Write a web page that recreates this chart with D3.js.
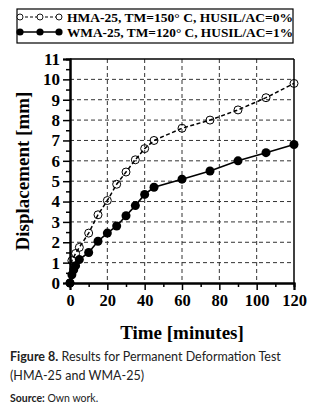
<!DOCTYPE html>
<html><head><meta charset="utf-8">
<script src="https://cdn.jsdelivr.net/npm/d3@7"></script>
<style>
body{margin:0;background:#fff;}
svg{display:block;}
</style></head>
<body>
<svg id="c" width="325" height="416"></svg>
<script>
const hmaTime = [0, 1, 3, 5, 10, 15, 20, 25, 30, 35, 40, 45, 60, 75, 90, 105, 120];
const hmaDisp = [0, 1.1, 1.45, 1.75, 2.45, 3.35, 4.05, 4.85, 5.45, 6.05, 6.6, 7.0, 7.6, 8.0, 8.5, 9.1, 9.8];
const wmaTime = [0, 1, 2, 3, 5, 10, 15, 20, 25, 30, 35, 40, 45, 60, 75, 90, 105, 120];
const wmaDisp = [0, 0.4, 0.65, 0.85, 1.15, 1.5, 2.05, 2.45, 2.8, 3.3, 3.8, 4.35, 4.7, 5.1, 5.5, 6.0, 6.4, 6.8];
const seriesNames = ["HMA-25, TM=150° C, HUSIL/AC=0%", "WMA-25, TM=120° C, HUSIL/AC=1%"];
const xTicks = [0, 20, 40, 60, 80, 100, 120];
const yTicks = [0,1,2,3,4,5,6,7,8,9,10,11];
const xTitle = "Time [minutes]";
const yTitle = "Displacement [mm]";

const svg = d3.select("#c");
const L = 70, R = 294, T = 59, B = 283;
const x = d3.scaleLinear().domain([0,120]).range([L,R]);
const y = d3.scaleLinear().domain([0,11]).range([B,T]);
const serif = "'Liberation Serif','Times New Roman',serif";

// grid
const g = svg.append("g");
g.selectAll(".hg").data(yTicks.filter(d=>d>0&&d<11)).join("line")
  .attr("x1",L).attr("x2",R).attr("y1",d=>y(d)).attr("y2",d=>y(d))
  .attr("stroke","#333").attr("stroke-width",1).attr("stroke-dasharray","4,3");
g.selectAll(".vg").data(xTicks.filter(d=>d>0&&d<120)).join("line")
  .attr("y1",T).attr("y2",B).attr("x1",d=>x(d)).attr("x2",d=>x(d))
  .attr("stroke","#333").attr("stroke-width",1).attr("stroke-dasharray","4,3");

// frame top/right
svg.append("line").attr("x1",L).attr("x2",R).attr("y1",T).attr("y2",T).attr("stroke","#000").attr("stroke-width",1.5);
svg.append("line").attr("x1",R).attr("x2",R).attr("y1",T).attr("y2",B).attr("stroke","#000").attr("stroke-width",1.5);

// axes
const xAxis = d3.axisBottom(x).tickValues(xTicks).tickSize(7).tickPadding(4).tickFormat(d3.format("d"));
const xa = svg.append("g").attr("transform",`translate(0,${B})`).call(xAxis);
const xMinor = d3.axisBottom(x).tickValues(d3.range(10,120,20)).tickSize(4).tickFormat("");
const xm = svg.append("g").attr("transform",`translate(0,${B})`).call(xMinor);
const yAxis = d3.axisLeft(y).tickValues(yTicks).tickSize(7).tickPadding(3).tickFormat(d3.format("d"));
const ya = svg.append("g").attr("transform",`translate(${L},0)`).call(yAxis);
const yMinor = d3.axisLeft(y).tickValues(d3.range(0.5,11,1)).tickSize(4).tickFormat("");
const ym = svg.append("g").attr("transform",`translate(${L},0)`).call(yMinor);
[xa,xm,ya,ym].forEach(a=>{
  a.select(".domain").attr("stroke","#000").attr("stroke-width",2);
  a.selectAll(".tick line").attr("stroke","#000").attr("stroke-width",1.5);
  a.selectAll("text").attr("font-family",serif).attr("font-weight","bold").attr("font-size",17).attr("fill","#000");
});
xa.selectAll("text").attr("font-size",16.5);

// axis titles
svg.append("text").attr("x",(L+R)/2).attr("y",339).attr("text-anchor","middle")
  .attr("font-family",serif).attr("font-weight","bold").attr("font-size",19).text(xTitle);
svg.append("text").attr("transform",`translate(29,${(T+B)/2}) rotate(-90)`).attr("text-anchor","middle")
  .attr("font-family",serif).attr("font-weight","bold").attr("font-size",19).text(yTitle);

// lines
const hma = hmaTime.map((t,i)=>[t,hmaDisp[i]]);
const wma = wmaTime.map((t,i)=>[t,wmaDisp[i]]);
const line = d3.line().x(d=>x(d[0])).y(d=>y(d[1]));
svg.append("path").datum(hma).attr("d",line).attr("fill","none").attr("stroke","#000").attr("stroke-width",1.5).attr("stroke-dasharray","4,2.5");
svg.selectAll(".hp").data(hma).join("circle").attr("cx",d=>x(d[0])).attr("cy",d=>y(d[1])).attr("r",4)
  .attr("fill","none").attr("stroke","#000").attr("stroke-width",1);
svg.append("path").datum(wma).attr("d",line).attr("fill","none").attr("stroke","#000").attr("stroke-width",1.6);
svg.selectAll(".wp").data(wma).join("circle").attr("cx",d=>x(d[0])).attr("cy",d=>y(d[1])).attr("r",4.5)
  .attr("fill","#000");

// legend
svg.append("rect").attr("x",17).attr("y",9).attr("width",276).attr("height",34).attr("fill","#fff").attr("stroke","#000").attr("stroke-width",1.2);
const legY = [17,32];
const lx = [20,40,59];
svg.append("line").attr("x1",lx[0]).attr("x2",lx[2]).attr("y1",legY[0]).attr("y2",legY[0]).attr("stroke","#000").attr("stroke-width",1).attr("stroke-dasharray","3,2");
svg.selectAll(".l1").data(lx).join("circle").attr("cx",d=>d).attr("cy",legY[0]).attr("r",3).attr("fill","#fff").attr("stroke","#000").attr("stroke-width",0.9);
svg.append("line").attr("x1",lx[0]).attr("x2",lx[2]).attr("y1",legY[1]).attr("y2",legY[1]).attr("stroke","#000").attr("stroke-width",1.5);
svg.selectAll(".l2").data(lx).join("circle").attr("cx",d=>d).attr("cy",legY[1]).attr("r",3.6).attr("fill","#000");
svg.selectAll(".lt").data(seriesNames).join("text").attr("x",67).attr("y",(d,i)=>legY[i]+4.5)
  .attr("font-family",serif).attr("font-weight","bold").attr("font-size",13).attr("textLength",226).attr("lengthAdjust","spacingAndGlyphs").text(d=>d);

// caption
const capFont = "Lato, 'Open Sans', sans-serif";
const cap = svg.append("text").attr("x",10).attr("y",361).attr("font-family",capFont).attr("font-size",12.5).attr("fill","#222");
cap.append("tspan").attr("font-weight","bold").text("Figure 8.");
cap.append("tspan").text(" Results for Permanent Deformation Test");
svg.append("text").attr("x",10).attr("y",380).attr("font-family",capFont).attr("font-size",12.5).attr("fill","#222").text("(HMA-25 and WMA-25)");
const src = svg.append("text").attr("x",10).attr("y",402).attr("font-family",capFont).attr("font-size",10.5).attr("fill","#222");
src.append("tspan").attr("font-weight","bold").text("Source:");
src.append("tspan").text(" Own work.");
</script>
</body></html>
